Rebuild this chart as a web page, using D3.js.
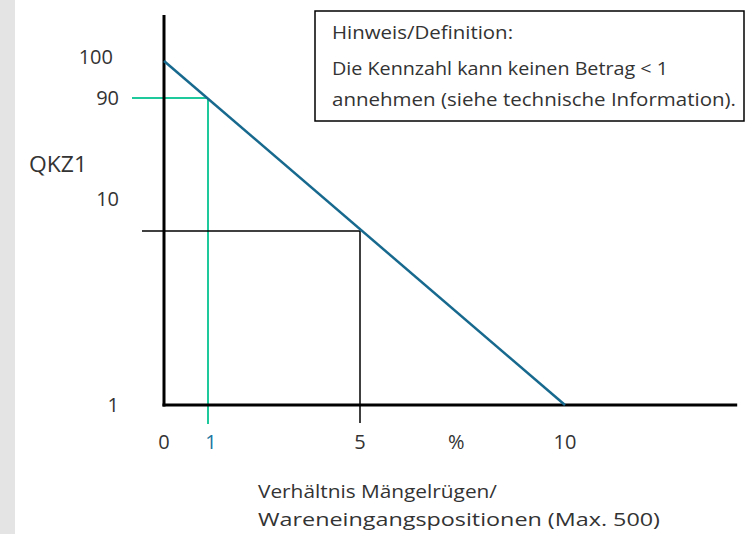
<!DOCTYPE html>
<html>
<head>
<meta charset="utf-8">
<script src="https://cdn.jsdelivr.net/npm/d3@7/dist/d3.min.js"></script>
<style>
  html, body { margin: 0; padding: 0; background: #fff; }
  svg { display: block; }
  text { font-family: "Open Sans", "Noto Sans", sans-serif; fill: #333; }
</style>
</head>
<body>
<svg id="chart" width="748" height="534"></svg>
<script>
// ---- data ----
const xTickValues = [0, 1, 5, 10];
const xTickLabels = ["0", "1", "5", "10"];
const xHighlightTick = 1;           // tick label drawn in blue
const xUnitLabel = "%";
const xUnitPos = 7.35;
const yTickValues = [1, 10, 90, 100];
const yTickLabels = ["1", "10", "90", "100"];
const yAxisTitle = "QKZ1";
const xAxisTitle = ["Verhältnis Mängelrügen/", "Wareneingangspositionen (Max. 500)"];
const curveX = [0, 10];
const curveY = [100, 1];
const refX = [1, 5];                // reading lines (green, black)
const refY = [90, 8.6];
const axisXMax = 14.2;
const axisYMax = 112.4;
const noteLines = ["Hinweis/Definition:", "Die Kennzahl kann keinen Betrag < 1", "annehmen (siehe technische Information)."];

// ---- layout ----
const svg = d3.select("#chart");
const x = d3.scaleLinear().domain([0, 1, 5, 10]).range([164, 208, 360, 565]);
const y = d3.scaleLinear().domain([1, 10, 90, 100]).range([405, 199, 98, 61]);

const colors = { curve: "#17698e", green: "#1ec99b", ref: "#000", axis: "#000", blueLabel: "#2276a2", text: "#333" };

// set a font size, then squeeze/stretch slightly to a target width
function fit(sel, w, size) {
  sel.style("font-size", size + "px");
  const len = sel.node().getComputedTextLength();
  if (Math.abs(len - w) > 1) sel.attr("textLength", w).attr("lengthAdjust", "spacingAndGlyphs");
  return sel;
}

// grey strip on left
svg.append("rect").attr("x", 0).attr("y", 0).attr("width", 15).attr("height", 534).attr("fill", "#e4e4e4");

// reference lines
const refStyle = [
  { color: colors.green, width: 2, leftOver: 32, downOver: 19 },
  { color: colors.ref, width: 1.5, leftOver: 22, downOver: 18 }
];
refX.forEach((rx, i) => {
  const s = refStyle[i];
  const px = x(rx), py = y(refY[i]);
  svg.append("line").attr("x1", x(0) - s.leftOver).attr("x2", px).attr("y1", py).attr("y2", py)
    .attr("stroke", s.color).attr("stroke-width", s.width);
  svg.append("line").attr("x1", px).attr("x2", px).attr("y1", py).attr("y2", y(1) + s.downOver)
    .attr("stroke", s.color).attr("stroke-width", s.width);
});

// axes
svg.append("line").attr("x1", x(0)).attr("x2", x(0)).attr("y1", y(axisYMax)).attr("y2", y(1) + 1.5)
  .attr("stroke", colors.axis).attr("stroke-width", 3);
svg.append("line").attr("x1", x(0) - 1.5).attr("x2", x(axisXMax)).attr("y1", y(1)).attr("y2", y(1))
  .attr("stroke", colors.axis).attr("stroke-width", 3);

// curve
const pts = curveX.map((d, i) => [x(d), y(curveY[i])]);
svg.append("path").attr("d", d3.line()(pts)).attr("fill", "none")
  .attr("stroke", colors.curve).attr("stroke-width", 2.5);

// y tick labels
svg.selectAll(".ytick").data(yTickValues).enter().append("text")
  .attr("class", "ytick")
  .attr("x", d => d === 100 ? 113 : 119).attr("y", d => y(d) - (d === 100 ? 4 : 0)).attr("dy", "0.35em")
  .attr("text-anchor", "end").style("font-size", "20px")
  .text((d, i) => yTickLabels[i]);

// y axis title
fit(svg.append("text").attr("x", 29).attr("y", 165).attr("dy", "0.35em").text(yAxisTitle), 58, 21);

// x tick labels
svg.selectAll(".xtick").data(xTickValues).enter().append("text")
  .attr("class", "xtick")
  .attr("x", d => x(d) + (d === xHighlightTick ? 3 : 0)).attr("y", 442).attr("dy", "0.35em")
  .attr("text-anchor", "middle").style("font-size", "20px")
  .style("fill", d => d === xHighlightTick ? colors.blueLabel : colors.text)
  .text((d, i) => xTickLabels[i]);
svg.append("text").attr("x", x(xUnitPos)).attr("y", 442).attr("dy", "0.35em")
  .attr("text-anchor", "middle").style("font-size", "20px").text(xUnitLabel);

// x axis title
const titleWidths = [239, 402];
xAxisTitle.forEach((t, i) => {
  fit(svg.append("text").attr("x", 258).attr("y", 492 + i * 28).attr("dy", "0.35em").text(t), titleWidths[i], 18.5);
});

// note box
svg.append("rect").attr("x", 315).attr("y", 11).attr("width", 429).attr("height", 110)
  .attr("fill", "#fff").attr("stroke", "#000").attr("stroke-width", 1.5);
const noteY = [33, 69, 100];
const noteWidths = [181, 336, 404];
noteLines.forEach((t, i) => {
  fit(svg.append("text").attr("x", 332).attr("y", noteY[i]).attr("dy", "0.35em").text(t), noteWidths[i], 18);
});
</script>
</body>
</html>
